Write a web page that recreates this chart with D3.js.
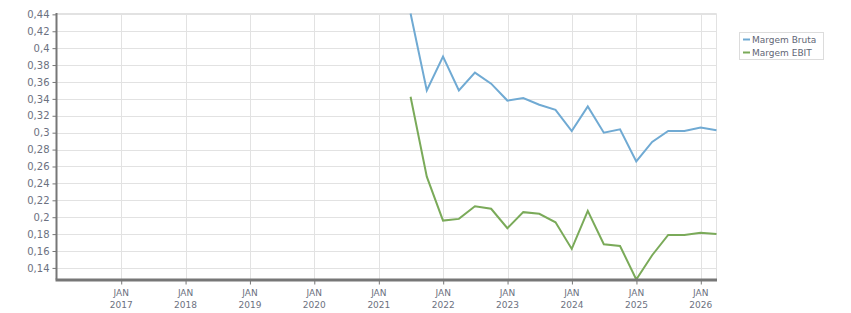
<!DOCTYPE html>
<html>
<head>
<meta charset="utf-8">
<script src="https://cdn.jsdelivr.net/npm/d3@7"></script>
<style>
  body { margin: 0; background: #fff; }
  #chart text { font-family: 'DejaVu Sans', Verdana, sans-serif; }
</style>
</head>
<body>
<div id="chart"><svg></svg></div>
<script>
const dates = [
  '2021-06-30', '2021-09-30', '2021-12-31', '2022-03-31', '2022-06-30',
  '2022-09-30', '2022-12-31', '2023-03-31', '2023-06-30', '2023-09-30',
  '2023-12-31', '2024-03-31', '2024-06-30', '2024-09-30', '2024-12-31',
  '2025-03-31', '2025-06-30', '2025-09-30', '2025-12-31', '2026-03-31'
]
const margemBruta = [
  0.441, 0.350, 0.390, 0.350, 0.371, 0.358, 0.338, 0.341, 0.333, 0.327,
  0.302, 0.331, 0.300, 0.304, 0.266, 0.289, 0.302, 0.302, 0.306, 0.303
]
const margemEbit = [
  0.3425, 0.248, 0.196, 0.198, 0.213, 0.210, 0.187, 0.206, 0.204, 0.194,
  0.1625, 0.2075, 0.168, 0.166, 0.1263, 0.155, 0.179, 0.179, 0.1815, 0.180
]
const seriesNames = ['Margem Bruta', 'Margem EBIT']
const seriesColors = ['#70aad3', '#7aaa59']
const yTicks = [0.14, 0.16, 0.18, 0.2, 0.22, 0.24, 0.26, 0.28, 0.3, 0.32, 0.34, 0.36, 0.38, 0.4, 0.42, 0.44]
const xTickYears = [2017, 2018, 2019, 2020, 2021, 2022, 2023, 2024, 2025, 2026]
const xStart = '2015-12-31'

const width = 851
const height = 313
const plot = { left: 56.5, top: 13.5, right: 716.5, bottom: 279.5 }
const parse = d3.utcParse('%Y-%m-%d')

/**
 * Sets the size of the SVG canvas.
 */
function setCanvasSize () {
  return d3.select('#chart').select('svg')
    .attr('width', width)
    .attr('height', height)
}

/**
 * Formats a tick value with a comma as decimal separator.
 */
function formatValue (v) {
  return String(+v.toFixed(2)).replace('.', ',')
}

const svg = setCanvasSize()

const x = d3.scaleUtc()
  .domain([parse(xStart), parse(dates[dates.length - 1])])
  .range([plot.left, plot.right])

const y = d3.scaleLinear()
  .domain(d3.extent(margemBruta.concat(margemEbit)))
  .range([plot.bottom, plot.top])

const yearDates = xTickYears.map(yr => new Date(Date.UTC(yr, 0, 1)))

// grid
const grid = svg.append('g').attr('id', 'grid')
grid.selectAll('line.h')
  .data(yTicks)
  .join('line')
  .attr('class', 'h')
  .attr('x1', plot.left)
  .attr('x2', plot.right)
  .attr('y1', d => Math.round(y(d)) + 0.5)
  .attr('y2', d => Math.round(y(d)) + 0.5)
  .attr('stroke', '#e2e2e2')
grid.selectAll('line.v')
  .data(yearDates)
  .join('line')
  .attr('class', 'v')
  .attr('x1', d => Math.round(x(d)) + 0.5)
  .attr('x2', d => Math.round(x(d)) + 0.5)
  .attr('y1', plot.top)
  .attr('y2', plot.bottom)
  .attr('stroke', '#e2e2e2')
grid.append('path')
  .attr('d', `M${plot.left},${plot.top}H${plot.right}V${plot.bottom}`)
  .attr('fill', 'none')
  .attr('stroke', '#e2e2e2')

// lines
const lineGen = d3.line()
  .x((d, i) => x(parse(dates[i])))
  .y(d => y(d))

svg.append('g')
  .selectAll('path')
  .data([margemBruta, margemEbit])
  .join('path')
  .attr('d', d => lineGen(d))
  .attr('fill', 'none')
  .attr('stroke', (d, i) => seriesColors[i])
  .attr('stroke-width', 2)
  .attr('stroke-linejoin', 'miter')

// y axis
const yAxis = svg.append('g')
  .attr('transform', `translate(${plot.left},0)`)
  .call(d3.axisLeft(y).tickValues(yTicks).tickFormat(formatValue).tickSize(4).tickPadding(3))
yAxis.select('.domain').remove()
yAxis.selectAll('.tick line').attr('stroke', '#777')
yAxis.selectAll('.tick text')
  .attr('fill', '#6c7180')
  .attr('font-size', 10)
  .attr('font-family', null)
svg.append('line')
  .attr('x1', plot.left)
  .attr('x2', plot.left)
  .attr('y1', plot.top - 0.5)
  .attr('y2', plot.bottom)
  .attr('stroke', '#777')
  .attr('stroke-width', 2)

// x axis
const xAxis = svg.append('g')
  .attr('transform', `translate(0,${plot.bottom})`)
  .call(d3.axisBottom(x).tickValues(yearDates).tickFormat('').tickSize(5))
xAxis.select('.domain').remove()
xAxis.selectAll('.tick line').attr('stroke', '#777')
svg.append('line')
  .attr('x1', plot.left - 1)
  .attr('x2', plot.right + 0.5)
  .attr('y1', plot.bottom + 0.5)
  .attr('y2', plot.bottom + 0.5)
  .attr('stroke', '#777')
  .attr('stroke-width', 3)

const xLabels = svg.append('g')
  .selectAll('text')
  .data(yearDates)
  .join('text')
  .attr('x', d => x(d))
  .attr('text-anchor', 'middle')
  .attr('fill', '#6c7180')
  .attr('font-size', 9)
xLabels.append('tspan')
  .attr('x', d => x(d))
  .attr('y', 295.5)
  .text('JAN')
xLabels.append('tspan')
  .attr('x', d => x(d))
  .attr('y', 307.5)
  .text(d => d.getUTCFullYear())

// legend
const legend = svg.append('g').attr('id', 'legend')
legend.append('rect')
  .attr('x', 739.5)
  .attr('y', 32.5)
  .attr('width', 84)
  .attr('height', 27)
  .attr('fill', '#fff')
  .attr('stroke', '#dcdcdc')
const items = legend.selectAll('g')
  .data(seriesNames)
  .join('g')
  .attr('transform', (d, i) => `translate(743,${39.5 + i * 13})`)
items.append('line')
  .attr('x1', 0)
  .attr('x2', 7)
  .attr('stroke', (d, i) => seriesColors[i])
  .attr('stroke-width', 2)
items.append('text')
  .attr('x', 9)
  .attr('dy', '0.35em')
  .attr('fill', '#5f6675')
  .attr('font-size', 9)
  .text(d => d)
</script>
</body>
</html>
